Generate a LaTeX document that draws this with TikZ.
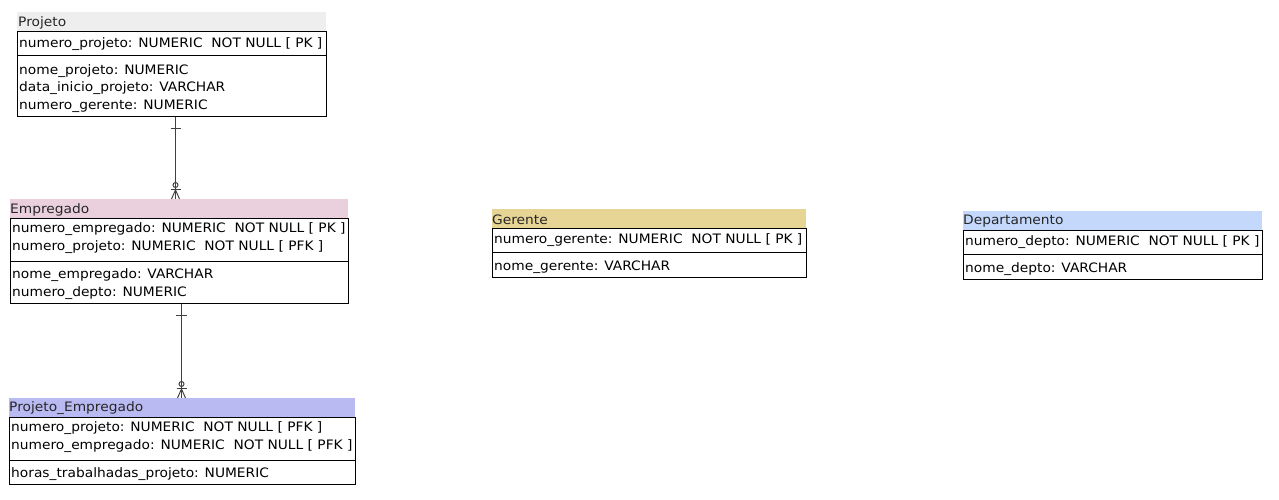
\documentclass[tikz,border=0pt]{standalone}
\usepackage{fontspec}
\setmainfont[FakeStretch=1.06]{DejaVu Sans}
\definecolor{hgray}{HTML}{EEEEEE}
\definecolor{hpink}{HTML}{E9D0DC}
\definecolor{hlav}{HTML}{B9BAF2}
\definecolor{hgold}{HTML}{E7D596}
\definecolor{hblue}{HTML}{C4D8FC}
\definecolor{conn}{HTML}{404040}
\begin{document}
\begin{tikzpicture}[x=1pt,y=-1pt,
  every node/.style={font=\fontsize{13}{15}\selectfont},
  hdr/.style={draw=none,inner sep=0,anchor=north west,minimum height=19pt},
  hdrtxt/.style={inner sep=0,anchor=west,text=black!85,yshift=-1pt},
  tbox/.style={draw=black,line width=1pt,inner sep=0,anchor=north west},
  row/.style={inner sep=0,anchor=west,yshift=-1pt},
  sep/.style={draw=black,line width=1pt},
  cn/.style={draw=conn,line width=1pt}]
\useasboundingbox (0,0) rectangle (1279,499);
% ---------- Projeto
\node[hdr,fill=hgray,minimum width=309pt] (projHead) at (17,12) {};
\node[hdrtxt] (projT) at (18,21.5) {Projeto};
\node[tbox,minimum width=309pt,minimum height=85pt] (projBox) at (17,31) {};
\draw[sep] (projBox.west |- 0,55) -- (projBox.east |- 0,55);
\node[row] (p1) at (19,43) {numero\_projeto: NUMERIC\ \ NOT NULL [ PK ]};
\node[row] (p2) at (19,70) {nome\_projeto: NUMERIC};
\node[row] (p3) at (19,87.5) {data\_inicio\_projeto: VARCHAR};
\node[row] (p4) at (19,105) {numero\_gerente: NUMERIC};
% ---------- Empregado
\node[hdr,fill=hpink,minimum width=338pt] (empHead) at (10,199) {};
\node[hdrtxt] (empT) at (10,208.5) {Empregado};
\node[tbox,minimum width=338pt,minimum height=85pt] (empBox) at (10,218) {};
\draw[sep] (empBox.west |- 0,261) -- (empBox.east |- 0,261);
\node[row] (e1) at (12,228.5) {numero\_empregado: NUMERIC\ \ NOT NULL [ PK ]};
\node[row] (e2) at (12,246.5) {numero\_projeto: NUMERIC\ \ NOT NULL [ PFK ]};
\node[row] (e3) at (12,274) {nome\_empregado: VARCHAR};
\node[row] (e4) at (12,292) {numero\_depto: NUMERIC};
% ---------- Projeto_Empregado
\node[hdr,fill=hlav,minimum width=346pt] (peHead) at (9,398) {};
\node[hdrtxt] (peT) at (9,407.5) {Projeto\_Empregado};
\node[tbox,minimum width=346pt,minimum height=67pt] (peBox) at (9,417) {};
\draw[sep] (peBox.west |- 0,460) -- (peBox.east |- 0,460);
\node[row] (q1) at (11,427.5) {numero\_projeto: NUMERIC\ \ NOT NULL [ PFK ]};
\node[row] (q2) at (11,445.5) {numero\_empregado: NUMERIC\ \ NOT NULL [ PFK ]};
\node[row] (q3) at (11,473) {horas\_trabalhadas\_projeto: NUMERIC};
% ---------- Gerente
\node[hdr,fill=hgold,minimum width=314pt] (gerHead) at (492,209) {};
\node[hdrtxt] (gerT) at (492,218.5) {Gerente};
\node[tbox,minimum width=314pt,minimum height=49pt] (gerBox) at (492,228) {};
\draw[sep] (gerBox.west |- 0,252) -- (gerBox.east |- 0,252);
\node[row] (g1) at (494,239.5) {numero\_gerente: NUMERIC\ \ NOT NULL [ PK ]};
\node[row] (g2) at (494,266) {nome\_gerente: VARCHAR};
% ---------- Departamento
\node[hdr,fill=hblue,minimum width=299pt] (depHead) at (963,211) {};
\node[hdrtxt] (depT) at (963,220.5) {Departamento};
\node[tbox,minimum width=299pt,minimum height=49pt] (depBox) at (963,230) {};
\draw[sep] (depBox.west |- 0,254) -- (depBox.east |- 0,254);
\node[row] (d1) at (965,241.5) {numero\_depto: NUMERIC\ \ NOT NULL [ PK ]};
\node[row] (d2) at (965,268) {nome\_depto: VARCHAR};
% ---------- connectors
\coordinate (cA) at (175.5,0);
\coordinate (cB) at (181.5,0);
\draw[cn] (projBox.south -| cA) -- (empHead.north -| cA);
\draw[cn] ([xshift=-5pt,yshift=-11pt]projBox.south -| cA) -- ++(10,0);
\draw[cn] ([yshift=10pt]empHead.north -| cA) ++(-5,0) -- ++(10,0);
\draw[cn] ([yshift=14pt]empHead.north -| cA) circle[radius=2.5pt];
\draw[cn] ([yshift=9pt]empHead.north -| cA) -- ++(-4,9);
\draw[cn] ([yshift=9pt]empHead.north -| cA) -- ++(4,9);
\draw[cn] (empBox.south -| cB) -- (peHead.north -| cB);
\draw[cn] ([xshift=-5.5pt,yshift=-11pt]empBox.south -| cB) -- ++(11,0);
\draw[cn] ([yshift=10pt]peHead.north -| cB) ++(-5,0) -- ++(10,0);
\draw[cn] ([yshift=14pt]peHead.north -| cB) circle[radius=2.5pt];
\draw[cn] ([yshift=9pt]peHead.north -| cB) -- ++(-4,9);
\draw[cn] ([yshift=9pt]peHead.north -| cB) -- ++(4,9);
\end{tikzpicture}
\end{document}
